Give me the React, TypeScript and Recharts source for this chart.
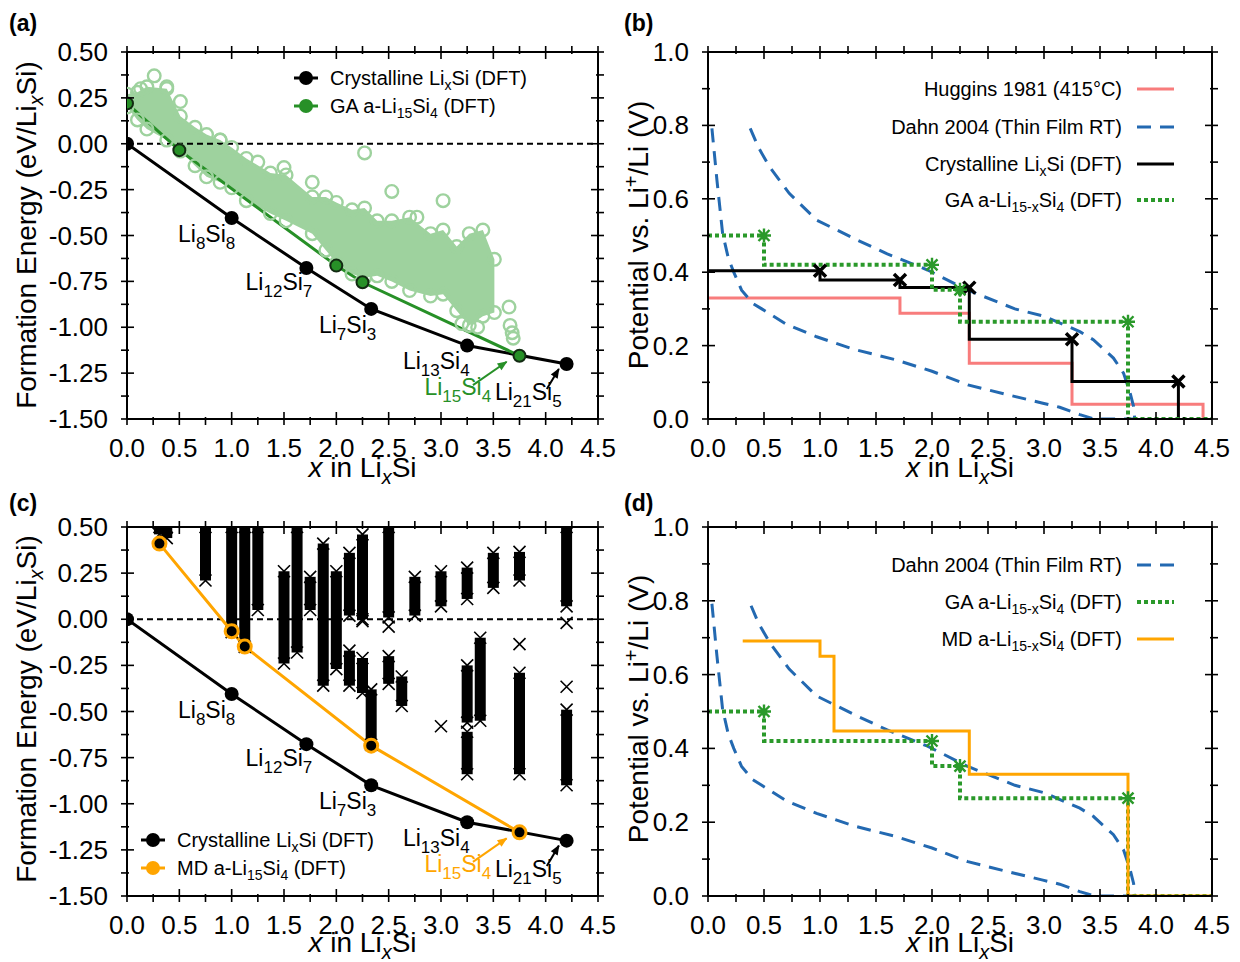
import React from 'react';
import { ComposedChart, Line, Scatter, Area, XAxis, YAxis, ReferenceLine } from 'recharts';

const FONT = '"Liberation Sans", Arial, Helvetica, sans-serif';
const GREEN = '#279027';
const LIGHT = '#9ed29e';
const ORANGE = '#ffa500';
const BLUE = '#2369b1';
const PINK = '#f87c7c';
const DOT_GREEN = '#2a992a';
const AX = { stroke: '#000', strokeWidth: 2 };

// ---------- ticks ----------
const xTicks = [0, 0.25, 0.5, 0.75, 1, 1.25, 1.5, 1.75, 2, 2.25, 2.5, 2.75, 3, 3.25, 3.5, 3.75, 4, 4.25, 4.5];
const xMajor = [0, 0.5, 1, 1.5, 2, 2.5, 3, 3.5, 4, 4.5];
const eTicks = [-1.5, -1.375, -1.25, -1.125, -1, -0.875, -0.75, -0.625, -0.5, -0.375, -0.25, -0.125, 0, 0.125, 0.25, 0.375, 0.5];
const eMajor = [-1.5, -1.25, -1, -0.75, -0.5, -0.25, 0, 0.25, 0.5];
const vTicks = [0, 0.1, 0.2, 0.3, 0.4, 0.5, 0.6, 0.7, 0.8, 0.9, 1];
const vMajor = [0, 0.2, 0.4, 0.6, 0.8, 1];

// ---------- formation energies (a, c) ----------
const crystalX = [0, 1.0, 1.714, 2.333, 3.25, 4.2];
const crystalE = [0, -0.405, -0.677, -0.9, -1.1, -1.2];
const gaX = [0, 0.5, 2.0, 2.25, 3.75];
const gaE = [0.22, -0.035, -0.664, -0.755, -1.155];
const mdX = [0.31, 1.0, 1.125, 2.333, 3.75];
const mdE = [0.41, -0.065, -0.148, -0.685, -1.155];

// GA candidate cloud (panel a)
const cloudX = [0, 0.1, 0.19, 0.38, 0.51, 0.65, 0.76, 0.89, 1.0, 1.14, 1.37, 1.52, 1.77, 1.9, 2.0, 2.15, 2.27, 2.39, 2.53, 2.7, 2.9, 3.02, 3.15, 3.27, 3.4, 3.51];
const cloudHi = [0.27, 0.28, 0.31, 0.3, 0.15, 0.09, 0.05, 0.02, -0.02, -0.08, -0.16, -0.17, -0.29, -0.29, -0.32, -0.36, -0.35, -0.42, -0.42, -0.4, -0.49, -0.47, -0.56, -0.49, -0.47, -0.63];
const cloudLo = [0.2, 0.13, 0.08, 0.02, -0.04, -0.12, -0.18, -0.21, -0.24, -0.31, -0.38, -0.42, -0.49, -0.58, -0.65, -0.71, -0.73, -0.72, -0.75, -0.8, -0.83, -0.82, -0.91, -0.99, -0.94, -0.92];
const outX = [0.26, 0.51, 0.89, 1.25, 1.5, 1.77, 2.27, 2.53, 2.77, 3.02, 3.2, 3.35, 3.65, 3.66, 3.68, 3.69, 0.13, 0.38];
const outE = [0.37, 0.23, 0.02, -0.1, -0.13, -0.21, -0.05, -0.26, -0.4, -0.31, -0.98, -1.0, -0.89, -0.99, -1.03, -1.06, 0.3, 0.31];

// MD candidate columns (panel c)
const colX = [0.31, 0.38, 0.75, 1.0, 1.125, 1.25, 1.5, 1.625, 1.75, 1.875, 2.0, 2.125, 2.125, 2.25, 2.25, 2.333, 2.5, 2.5, 2.625, 2.75, 3.0, 3.25, 3.25, 3.25, 3.375, 3.5, 3.75, 3.75, 4.2, 4.2];
const colLo = [0.46, 0.44, 0.21, -0.07, -0.15, 0.05, -0.24, -0.18, 0.05, -0.36, -0.27, 0.02, -0.36, 0.0, -0.4, -0.68, 0.01, -0.35, -0.47, 0.02, 0.07, 0.11, -0.56, -0.84, -0.55, 0.17, 0.21, -0.84, 0.07, -0.9];
const colHi = [0.5, 0.5, 0.5, 0.5, 0.5, 0.5, 0.26, 0.5, 0.23, 0.41, 0.26, 0.36, -0.17, 0.46, -0.21, -0.38, 0.5, -0.2, -0.31, 0.23, 0.26, 0.28, -0.25, -0.61, -0.1, 0.36, 0.365, -0.29, 0.5, -0.49];
const isoX = [2.25, 2.5, 4.2, 3.75, 4.2, 3.0];
const isoE = [-0.01, -0.04, -0.02, -0.135, -0.366, -0.58];

// ---------- voltages (b, d) ----------
const hugX = [0, 1.714, 2.333, 3.25, 4.42];
const hugV = [0.33, 0.288, 0.152, 0.04, 0];
const dftX = [0, 1.0, 1.714, 2.333, 3.25, 4.2];
const dftV = [0.404, 0.379, 0.358, 0.217, 0.102, 0];
const gaVX = [0, 0.5, 2.0, 2.25, 3.75, 4.5];
const gaV = [0.5, 0.42, 0.352, 0.265, 0, 0];
const mdVX = [0.31, 1.0, 1.125, 2.333, 3.75, 4.5];
const mdV = [0.691, 0.65, 0.447, 0.33, 0, 0];
const dahnX = [0.035, 0.08, 0.13, 0.18, 0.23, 0.3, 0.4, 0.48, 0.7, 0.97, 1.3, 1.68, 2.0, 2.32, 2.65, 2.99, 3.14, 3.32, 3.45, 3.81, 3.8, 3.77, 3.71, 3.62, 3.44, 3.32, 3.0, 2.74, 2.32, 1.96, 1.6, 1.33, 0.97, 0.725, 0.55, 0.45, 0.37];
const dahnV = [0.792, 0.65, 0.507, 0.44, 0.4, 0.351, 0.315, 0.3, 0.258, 0.224, 0.19, 0.161, 0.13, 0.093, 0.068, 0.043, 0.032, 0.012, 0, 0, 0.034, 0.07, 0.125, 0.166, 0.216, 0.238, 0.28, 0.3, 0.351, 0.406, 0.45, 0.488, 0.542, 0.615, 0.687, 0.74, 0.797];

// ---------- annotations ----------
type Part = [string, number];
const compoundLabels: { x: number; y: number; parts: Part[] }[] = [
  { x: 0.487, y: -0.535, parts: [['Li', 0], ['8', 1], ['Si', 0], ['8', 1]] },
  { x: 1.133, y: -0.797, parts: [['Li', 0], ['12', 1], ['Si', 0], ['7', 1]] },
  { x: 1.834, y: -1.031, parts: [['Li', 0], ['7', 1], ['Si', 0], ['3', 1]] },
  { x: 2.636, y: -1.228, parts: [['Li', 0], ['13', 1], ['Si', 0], ['4', 1]] },
  { x: 3.515, y: -1.396, parts: [['Li', 0], ['21', 1], ['Si', 0], ['5', 1]] },
];
const amorphLabel = { x: 2.842, y: -1.369, parts: [['Li', 0], ['15', 1], ['Si', 0], ['4', 1]] as Part[] };
const arrowAccentX = [3.305, 3.627];
const arrowAccentE = [-1.315, -1.188];
const arrowBlackX = [4.011, 4.126];
const arrowBlackE = [-1.337, -1.227];

// ---------- helpers ----------
const zip = (xs: number[], ys: number[]) => xs.map((x, i) => ({ x, y: ys[i] }));
const crystal = zip(crystalX, crystalE);
const gaPts = zip(gaX, gaE);
const mdPts = zip(mdX, mdE);
const cloud = cloudX.map((x, i) => ({ x, r: [cloudLo[i], cloudHi[i]] }));
const cloudPts = [...zip(cloudX, cloudLo), ...zip(cloudX, cloudHi), ...zip(outX, outE)];
const cols = colX.map((x, i) => ({ x, lo: colLo[i], hi: colHi[i] }));
const colMarks = [...zip(colX, colLo), ...zip(colX, colHi), ...zip(isoX, isoE)];
const hug = zip(hugX, hugV);
const dft = zip(dftX, dftV);
const gaStep = zip(gaVX, gaV);
const mdStep = zip(mdVX, mdV);
const dahn = zip(dahnX, dahnV);
const plateauEnds = (s: { x: number; y: number }[], n: number) =>
  s.slice(0, n).map((p, i) => ({ x: s[i + 1].x, y: p.y }));
const dftMarks = plateauEnds(dft, 5);
const gaMarks = plateauEnds(gaStep, 4);

const tspans = (parts: Part[], size: number, subSize: number, shift: number) => {
  let prev = 0;
  return parts.map(([t, k], i) => {
    // 0 normal, 1 sub, 2 sup, 3 italic, 4 italic sub
    const lvl = k === 1 || k === 4 ? shift : k === 2 ? -shift * 1.5 : 0;
    const dy = lvl - prev;
    prev = lvl;
    return (
      <tspan key={i} dy={dy} fontSize={lvl !== 0 ? subSize : size} fontStyle={k >= 3 ? 'italic' : undefined}>
        {t}
      </tspan>
    );
  });
};

const isIn = (arr: number[], v: number) => arr.some((m) => Math.abs(m - v) < 1e-6);
type Side = 'b' | 't' | 'l' | 'r';
const makeTick = (side: Side, majors: number[], digits: number) => (props: any) => {
  const { x, y, payload } = props;
  const v = payload.value as number;
  const major = isIn(majors, v);
  const L = major ? 13 : 8;
  const s = { stroke: '#000', strokeWidth: 1.6 };
  let ln;
  if (side === 'b') ln = <line x1={x} y1={y} x2={x} y2={y - L} {...s} />;
  else if (side === 't') ln = <line x1={x} y1={y} x2={x} y2={y + L} {...s} />;
  else if (side === 'l') ln = <line x1={x} y1={y} x2={x + L} y2={y} {...s} />;
  else ln = <line x1={x} y1={y} x2={x - L} y2={y} {...s} />;
  let label = null;
  if (major && side === 'b')
    label = (
      <text x={x} y={y + 32} textAnchor="middle" fontSize={26} fontFamily={FONT} fill="#000">
        {v.toFixed(digits)}
      </text>
    );
  if (major && side === 'l')
    label = (
      <text x={x - 13} y={y + 9} textAnchor="end" fontSize={26} fontFamily={FONT} fill="#000">
        {v.toFixed(digits)}
      </text>
    );
  return (
    <g>
      {ln}
      {label}
    </g>
  );
};

const axes = (yTicks: number[], yMajor: number[], yDomain: [number, number], digits: number) => [
  <XAxis key="xb" xAxisId={0} dataKey="x" type="number" domain={[0, 4.5]} ticks={xTicks} interval={0} allowDataOverflow height={20} tickLine={false} tickMargin={0} axisLine={AX} tick={makeTick('b', xMajor, 1)} />,
  <XAxis key="xt" xAxisId="top" orientation="top" dataKey="x" type="number" domain={[0, 4.5]} ticks={xTicks} interval={0} allowDataOverflow height={10} tickLine={false} tickMargin={0} axisLine={AX} tick={makeTick('t', xMajor, 1)} />,
  <YAxis key="yl" yAxisId={0} dataKey="y" type="number" domain={yDomain} ticks={yTicks} interval={0} allowDataOverflow width={40} tickLine={false} tickMargin={0} axisLine={AX} tick={makeTick('l', yMajor, digits)} />,
  <YAxis key="yr" yAxisId="right" orientation="right" type="number" domain={yDomain} ticks={yTicks} interval={0} allowDataOverflow width={10} tickLine={false} tickMargin={0} axisLine={AX} tick={makeTick('r', yMajor, digits)} />,
];

// ---------- shapes ----------
const openCircle = (p: any) => <circle cx={p.cx} cy={p.cy} r={6.3} fill="none" stroke={LIGHT} strokeWidth={2.4} />;
const smallCross = (p: any) => (
  <path d={`M${p.cx - 6},${p.cy - 6}L${p.cx + 6},${p.cy + 6}M${p.cx - 6},${p.cy + 6}L${p.cx + 6},${p.cy - 6}`} stroke="#000" strokeWidth={1.6} fill="none" />
);
const bigCross = (p: any) => (
  <path d={`M${p.cx - 6},${p.cy - 6}L${p.cx + 6},${p.cy + 6}M${p.cx - 6},${p.cy + 6}L${p.cx + 6},${p.cy - 6}`} stroke="#000" strokeWidth={3.5} fill="none" />
);
const star = (p: any) => (
  <path
    d={`M${p.cx - 7},${p.cy}L${p.cx + 7},${p.cy}M${p.cx},${p.cy - 7}L${p.cx},${p.cy + 7}M${p.cx - 5.5},${p.cy - 5.5}L${p.cx + 5.5},${p.cy + 5.5}M${p.cx - 5.5},${p.cy + 5.5}L${p.cx + 5.5},${p.cy - 5.5}`}
    stroke={DOT_GREEN}
    strokeWidth={2.4}
    fill="none"
  />
);
const labelShape = (color: string) => (p: any) => (
  <text x={p.cx} y={p.cy} fontSize={23} fontFamily={FONT} fill={color}>
    {tspans(p.payload.parts, 23, 17, 7)}
  </text>
);

const blackDot = (p: any) => <circle key={'k' + p.index} cx={p.cx} cy={p.cy} r={7} fill="#000" />;
const greenDot = (p: any) => <circle key={'g' + p.index} cx={p.cx} cy={p.cy} r={6} fill={GREEN} stroke="#122a12" strokeWidth={2} />;
const mdDot = (p: any) => <circle key={'m' + p.index} cx={p.cx} cy={p.cy} r={6.5} fill="#000" stroke={ORANGE} strokeWidth={3} />;

// ---------- panels ----------
function EnergyPanel({ kind }: { kind: 'a' | 'c' }) {
  const isA = kind === 'a';
  const accent = isA ? GREEN : ORANGE;
  const ahId = isA ? 'ahA' : 'ahC';
  const akId = isA ? 'akA' : 'akC';
  const margin = isA ? { top: 42, right: 12, bottom: 41, left: 87 } : { top: 37, right: 12, bottom: 46, left: 87 };
  return (
    <ComposedChart width={620} height={isA ? 480 : 482} margin={margin}>
      <defs>
        <marker id={ahId} viewBox="0 0 10 10" refX="9" refY="5" markerWidth="11" markerHeight="10" markerUnits="userSpaceOnUse" orient="auto">
          <path d="M0,1 L10,5 L0,9 z" fill={accent} />
        </marker>
        <marker id={akId} viewBox="0 0 10 10" refX="9" refY="5" markerWidth="11" markerHeight="10" markerUnits="userSpaceOnUse" orient="auto">
          <path d="M0,1 L10,5 L0,9 z" fill="#000" />
        </marker>
      </defs>
      {axes(eTicks, eMajor, [-1.5, 0.5], 2)}
      {isA && <Area data={cloud} dataKey="r" type="linear" stroke="none" fill={LIGHT} fillOpacity={1} isAnimationActive={false} />}
      {isA && <Scatter data={cloudPts} dataKey="y" shape={openCircle} isAnimationActive={false} />}
      {!isA &&
        cols.map((c, i) => (
          <ReferenceLine key={'col' + i} segment={[{ x: c.x, y: c.lo }, { x: c.x, y: c.hi }]} stroke="#000" strokeWidth={11} ifOverflow="visible" />
        ))}
      {!isA && <Scatter data={colMarks} dataKey="y" shape={smallCross} isAnimationActive={false} />}
      <ReferenceLine y={0} stroke="#000" strokeWidth={2} strokeDasharray="6 4" />
      <Line data={crystal} dataKey="y" type="linear" stroke="#000" strokeWidth={3} dot={blackDot} activeDot={false} isAnimationActive={false} />
      <Line data={isA ? gaPts : mdPts} dataKey="y" type="linear" stroke={accent} strokeWidth={3} dot={isA ? greenDot : mdDot} activeDot={false} isAnimationActive={false} />
      <Line data={zip(arrowAccentX, arrowAccentE)} dataKey="y" type="linear" stroke={accent} strokeWidth={2} dot={false} activeDot={false} markerEnd={`url(#${ahId})`} isAnimationActive={false} />
      <Line data={zip(arrowBlackX, arrowBlackE)} dataKey="y" type="linear" stroke="#000" strokeWidth={2} dot={false} activeDot={false} markerEnd={`url(#${akId})`} isAnimationActive={false} />
      <Scatter data={compoundLabels} dataKey="y" shape={labelShape('#000')} isAnimationActive={false} />
      <Scatter data={[amorphLabel]} dataKey="y" shape={labelShape(accent)} isAnimationActive={false} />
    </ComposedChart>
  );
}

function VoltagePanel({ kind }: { kind: 'b' | 'd' }) {
  const isB = kind === 'b';
  const margin = isB ? { top: 42, right: 18, bottom: 41, left: 48 } : { top: 37, right: 18, bottom: 46, left: 48 };
  return (
    <ComposedChart width={620} height={isB ? 480 : 482} margin={margin}>
      {axes(vTicks, vMajor, [0, 1], 1)}
      {isB && <Line data={hug} dataKey="y" type="stepAfter" stroke={PINK} strokeWidth={3} dot={false} activeDot={false} isAnimationActive={false} />}
      <Line data={dahn} dataKey="y" type="linear" stroke={BLUE} strokeWidth={3} strokeDasharray="14 9" dot={false} activeDot={false} isAnimationActive={false} />
      {isB && <Line data={dft} dataKey="y" type="stepAfter" stroke="#000" strokeWidth={3} dot={false} activeDot={false} isAnimationActive={false} />}
      {isB && <Scatter data={dftMarks} dataKey="y" shape={bigCross} isAnimationActive={false} />}
      <Line data={gaStep} dataKey="y" type="stepAfter" stroke={DOT_GREEN} strokeWidth={4} strokeDasharray="4 3" dot={false} activeDot={false} isAnimationActive={false} />
      <Scatter data={gaMarks} dataKey="y" shape={star} isAnimationActive={false} />
      {!isB && <Line data={mdStep} dataKey="y" type="stepAfter" stroke={ORANGE} strokeWidth={3} dot={false} activeDot={false} isAnimationActive={false} />}
    </ComposedChart>
  );
}

// ---------- overlays (titles, legends) ----------
const T = { fontFamily: FONT, fill: '#000' } as const;
const overlayStyle: React.CSSProperties = { position: 'absolute', left: 0, top: 0, pointerEvents: 'none', overflow: 'visible' };

function EnergyOverlay({ kind }: { kind: 'a' | 'c' }) {
  const isA = kind === 'a';
  const accent = isA ? GREEN : ORANGE;
  const lx0 = isA ? 294 : 141;
  const lx1 = isA ? 318 : 165;
  const tx = isA ? 330 : 177;
  const r1 = isA ? 78 : 360;
  const r2 = isA ? 106 : 388;
  const ycen = isA ? 235 : 229;
  const xb = isA ? 477 : 472;
  return (
    <svg width={620} height={490} style={overlayStyle}>
      <text x={9} y={31} fontSize={23} fontWeight="bold" {...T}>({kind})</text>
      <text transform={`translate(36,${ycen}) rotate(-90)`} textAnchor="middle" fontSize={28} {...T}>
        {tspans([['Formation Energy (eV/Li', 0], ['x', 4], ['Si)', 0]], 28, 20, 7)}
      </text>
      <text x={362.5} y={xb} textAnchor="middle" fontSize={28} {...T}>
        {tspans([['x', 3], [' in Li', 0], ['x', 4], ['Si', 0]], 28, 20, 7)}
      </text>
      <line x1={lx0} y1={r1} x2={lx1} y2={r1} stroke="#000" strokeWidth={3} />
      <circle cx={(lx0 + lx1) / 2} cy={r1} r={7} fill="#000" />
      <text x={tx} y={r1 + 7} fontSize={20} {...T}>
        {tspans([['Crystalline Li', 0], ['x', 1], ['Si (DFT)', 0]], 20, 14, 5)}
      </text>
      <line x1={lx0} y1={r2} x2={lx1} y2={r2} stroke={accent} strokeWidth={3} />
      <circle cx={(lx0 + lx1) / 2} cy={r2} r={7} fill={accent} />
      <text x={tx} y={r2 + 7} fontSize={20} {...T}>
        {tspans([[isA ? 'GA a-Li' : 'MD a-Li', 0], ['15', 1], ['Si', 0], ['4', 1], [' (DFT)', 0]], 20, 14, 5)}
      </text>
    </svg>
  );
}

function VoltageOverlay({ kind }: { kind: 'b' | 'd' }) {
  const isB = kind === 'b';
  const rows = isB ? [89, 127, 164, 200] : [85, 122, 159];
  const entries: { parts: Part[]; color: string; dash?: string; w: number }[] = isB
    ? [
        { parts: [['Huggins 1981 (415°C)', 0]], color: PINK, w: 3 },
        { parts: [['Dahn 2004 (Thin Film RT)', 0]], color: BLUE, dash: '14 9', w: 3 },
        { parts: [['Crystalline Li', 0], ['x', 1], ['Si (DFT)', 0]], color: '#000', w: 3 },
        { parts: [['GA a-Li', 0], ['15-x', 1], ['Si', 0], ['4', 1], [' (DFT)', 0]], color: DOT_GREEN, dash: '4 3', w: 4 },
      ]
    : [
        { parts: [['Dahn 2004 (Thin Film RT)', 0]], color: BLUE, dash: '14 9', w: 3 },
        { parts: [['GA a-Li', 0], ['15-x', 1], ['Si', 0], ['4', 1], [' (DFT)', 0]], color: DOT_GREEN, dash: '4 3', w: 4 },
        { parts: [['MD a-Li', 0], ['15-x', 1], ['Si', 0], ['4', 1], [' (DFT)', 0]], color: ORANGE, w: 3 },
      ];
  const ycen = isB ? 235 : 229;
  const xb = isB ? 477 : 472;
  return (
    <svg width={620} height={490} style={overlayStyle}>
      <text x={4} y={31} fontSize={23} fontWeight="bold" {...T}>({kind})</text>
      <text transform={`translate(28,${ycen}) rotate(-90)`} textAnchor="middle" fontSize={28} {...T}>
        {tspans([['Potential vs. Li', 0], ['+', 2], ['/Li (V)', 0]], 28, 20, 7)}
      </text>
      <text x={340} y={xb} textAnchor="middle" fontSize={28} {...T}>
        {tspans([['x', 3], [' in Li', 0], ['x', 4], ['Si', 0]], 28, 20, 7)}
      </text>
      {entries.map((e, i) => (
        <g key={i}>
          <text x={502} y={rows[i] + 7} textAnchor="end" fontSize={20} {...T}>
            {tspans(e.parts, 20, 14, 5)}
          </text>
          <line x1={517} y1={rows[i]} x2={554} y2={rows[i]} stroke={e.color} strokeWidth={e.w} strokeDasharray={e.dash} />
        </g>
      ))}
    </svg>
  );
}

export default function App() {
  const box = (left: number, top: number): React.CSSProperties => ({ position: 'absolute', left, top, width: 620, height: 482 });
  return (
    <div style={{ position: 'absolute', left: 0, top: 0, width: 1240, height: 962, background: '#fff', fontFamily: FONT, overflow: 'hidden' }}>
      <div style={box(0, 0)}>
        <EnergyPanel kind="a" />
        <EnergyOverlay kind="a" />
      </div>
      <div style={box(620, 0)}>
        <VoltagePanel kind="b" />
        <VoltageOverlay kind="b" />
      </div>
      <div style={box(0, 480)}>
        <EnergyPanel kind="c" />
        <EnergyOverlay kind="c" />
      </div>
      <div style={box(620, 480)}>
        <VoltagePanel kind="d" />
        <VoltageOverlay kind="d" />
      </div>
    </div>
  );
}
